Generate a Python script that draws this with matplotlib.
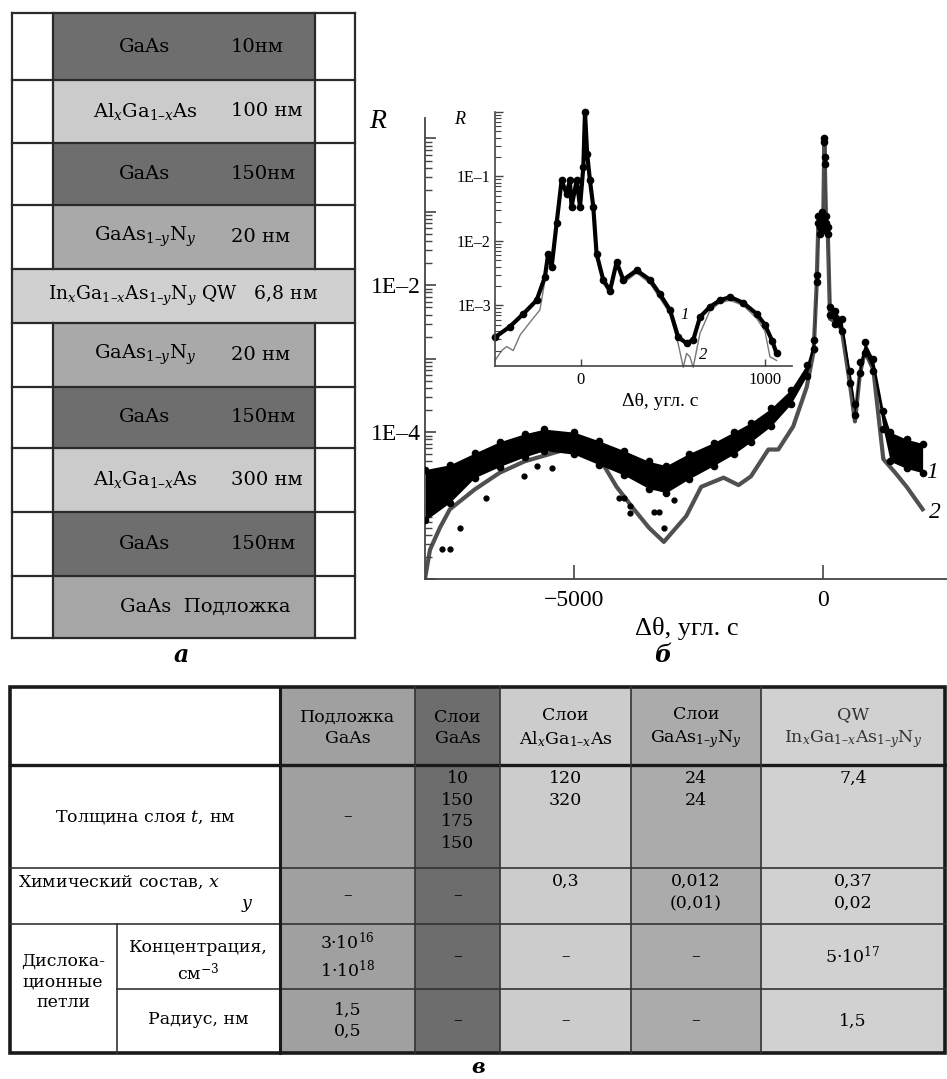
import numpy as np
import matplotlib
matplotlib.use("Agg")
import matplotlib.pyplot as plt
from matplotlib.patches import Rectangle
from matplotlib.ticker import LogLocator, NullFormatter

plt.rcParams['font.family'] = ['DejaVu Serif']
plt.rcParams['mathtext.fontset'] = 'dejavuserif'

W, H = 947, 1079
PLOT_FONT = 'Liberation Serif'

# ---- panel a: layer structure (top to bottom) ----
layer_names = ['GaAs', 'Al$_x$Ga$_{1–x}$As', 'GaAs', 'GaAs$_{1–y}$N$_y$',
               'In$_x$Ga$_{1–x}$As$_{1–y}$N$_y$ QW', 'GaAs$_{1–y}$N$_y$', 'GaAs',
               'Al$_x$Ga$_{1–x}$As', 'GaAs', 'GaAs']
layer_thick = ['10нм', '100 нм', '150нм', '20 нм', '6,8 нм', '20 нм', '150нм',
               '300 нм', '150нм', 'Подложка']

# ---- panel б: main curve (1 = experiment, band of dots; 2 = calculation) ----
x1 = [-7990, -7500, -7000, -6500, -6000, -5600, -5000, -4500, -4000, -3500,
      -3150, -2700, -2200, -1800, -1450, -1050, -650, -330, -190, -130,
      -95, -60, -30, 0, 25, 35, 60, 95, 140, 240,
      375, 540, 640, 740, 840, 1010, 1210, 1350, 1680, 2000]
r1_hi = [3.1e-5, 3.6e-5, 5.2e-5, 7.4e-5, 9.5e-5, 1.1e-4, 1.0e-4, 7.6e-5, 5.6e-5, 4.0e-5,
         3.5e-5, 5.1e-5, 7.2e-5, 1.0e-4, 1.35e-4, 2.1e-4, 3.8e-4, 8.3e-4, 1.8e-3, 1.4e-2,
         8.9e-2, 6.3e-2, 0.1, 7.1e-2, 1.0, 0.56, 8.9e-2, 6.3e-2, 5.1e-3, 4.4e-3,
         3.5e-3, 6.8e-4, 2.4e-4, 9.1e-4, 1.7e-3, 1.0e-3, 1.95e-4, 1.0e-4, 8.0e-5, 7.0e-5]
r1_lo = [6.3e-6, 1.1e-5, 2.4e-5, 3.4e-5, 4.6e-5, 5.6e-5, 5.0e-5, 3.6e-5, 2.6e-5, 1.7e-5,
         1.5e-5, 2.3e-5, 3.5e-5, 5.0e-5, 7.4e-5, 1.2e-4, 2.4e-4, 5.8e-4, 1.35e-3, 1.1e-2,
         7.1e-2, 5.0e-2, 7.9e-2, 5.6e-2, 0.89, 0.45, 7.1e-2, 5.0e-2, 3.9e-3, 3.0e-3,
         2.4e-3, 4.7e-4, 1.7e-4, 6.3e-4, 1.2e-3, 6.9e-4, 1.1e-4, 4.0e-5, 3.2e-5, 2.8e-5]
x1_out = [-7657, -7490, -7289, -6767, -6018, -5749, -5448, -4110, -4000, -3876,
          -3876, -3407, -3300, -3206, -3005]
r1_out = [2.6e-6, 2.6e-6, 5.0e-6, 1.26e-5, 2.5e-5, 3.5e-5, 3.2e-5, 1.26e-5, 1.26e-5, 1.0e-5,
          7.9e-6, 8.1e-6, 8.1e-6, 5.0e-6, 1.2e-5]

x2 = [-7990, -7900, -7700, -7500, -7000, -6500, -6000, -5000, -4500, -4150,
      -3800, -3500, -3200, -2750, -2450, -2000, -1700, -1450, -1100, -900,
      -600, -330, -190, -130, -95, -60, -30, 0, 25, 35,
      60, 95, 140, 240, 375, 540, 640, 740, 840, 1010,
      1210, 1450, 1680, 2000]
r2 = [1.1e-6, 2.5e-6, 5.0e-6, 8.9e-6, 1.66e-5, 2.8e-5, 4.0e-5, 6.3e-5, 4.5e-5, 1.8e-5,
      8.9e-6, 5.0e-6, 3.2e-6, 7.2e-6, 1.8e-5, 2.4e-5, 1.9e-5, 2.5e-5, 5.8e-5, 5.8e-5,
      1.2e-4, 4.1e-4, 1.26e-3, 1.0e-2, 7.1e-2, 5.0e-2, 7.9e-2, 5.6e-2, 0.93, 0.45,
      7.1e-2, 5.0e-2, 3.5e-3, 3.2e-3, 2.5e-3, 4.5e-4, 1.4e-4, 6.3e-4, 1.26e-3, 7.1e-4,
      4.3e-5, 2.8e-5, 1.8e-5, 8.9e-6]

# ---- inset ----
xi1 = [-467, -386, -313, -241, -196, -178, -159, -132, -105, -78,
       -60, -51, -23, -5, 13, 22, 34, 49, 67, 85,
       121, 158, 194, 230, 303, 375, 429, 484, 529, 574,
       610, 647, 701, 755, 810, 882, 955, 1000, 1040, 1063]
ri1 = [3.2e-4, 4.7e-4, 7.4e-4, 1.2e-3, 2.75e-3, 6.3e-3, 4.0e-3, 1.9e-2, 8.7e-2, 5.4e-2,
       8.7e-2, 3.4e-2, 8.7e-2, 3.4e-2, 0.14, 1.0, 0.22, 8.7e-2, 3.4e-2, 6.3e-3,
       2.5e-3, 1.7e-3, 4.7e-3, 2.5e-3, 3.5e-3, 2.5e-3, 1.5e-3, 8.5e-4, 3.2e-4, 2.6e-4,
       2.9e-4, 6.6e-4, 9.5e-4, 1.2e-3, 1.35e-3, 1.1e-3, 7.4e-4, 5.0e-4, 2.8e-4, 1.8e-4]
xi2 = [-467, -430, -404, -368, -330, -295, -260, -223, -196, -178,
       -159, -132, -105, -78, -60, -51, -23, -5, 13, 22,
       34, 49, 67, 85, 121, 158, 194, 230, 303, 375,
       429, 484, 529, 556, 574, 592, 610, 647, 701, 755,
       810, 882, 955, 1000, 1027, 1063]
ri2 = [1.4e-4, 2.0e-4, 2.3e-4, 2.0e-4, 3.5e-4, 4.7e-4, 6.3e-4, 8.5e-4, 2.4e-3, 5.6e-3,
       3.5e-3, 1.7e-2, 7.9e-2, 5.0e-2, 7.9e-2, 3.2e-2, 7.9e-2, 3.2e-2, 0.13, 0.93,
       0.2, 7.9e-2, 3.2e-2, 5.6e-3, 2.2e-3, 1.5e-3, 4.2e-3, 2.2e-3, 3.2e-3, 2.2e-3,
       1.3e-3, 7.4e-4, 2.5e-4, 1.1e-4, 1.8e-4, 1.6e-4, 1.1e-4, 3.7e-4, 8.3e-4, 1.1e-3,
       1.2e-3, 1.0e-3, 6.3e-4, 4.0e-4, 1.6e-4, 1.4e-4]

# ---- panel в: table ----
col_heads = ['Подложка\nGaAs', 'Слои\nGaAs', 'Слои\nAl$_x$Ga$_{1–x}$As',
             'Слои\nGaAs$_{1–y}$N$_y$', 'QW\nIn$_x$Ga$_{1–x}$As$_{1–y}$N$_y$']
row_thickness = ['–', '10\n150\n175\n150', '120\n320', '24\n24', '7,4']
row_composition = ['–', '–', '0,3', '0,012\n(0,01)', '0,37\n0,02']
row_concentration = ['3·10$^{16}$\n1·10$^{18}$', '–', '–', '–', '5·10$^{17}$']
row_radius = ['1,5\n0,5', '–', '–', '–', '1,5']


def frac(left, top, right, bottom):
    return [left / W, 1 - bottom / H, (right - left) / W, (bottom - top) / H]


fig = plt.figure(figsize=(W / 100, H / 100), dpi=100)
bg = fig.add_axes([0, 0, 1, 1])
bg.set_xlim(0, W)
bg.set_ylim(H, 0)
bg.axis('off')

# panel a drawing
edges = [13, 80, 143, 205, 269, 323, 387, 448, 512, 576, 638]
shades = {'GaAs': '#6e6e6e', 'AlGaAs': '#cbcbcb', 'GaAsN': '#a9a9a9', 'QW': '#d0d0d0', 'sub': '#a6a6a6'}
kinds = ['GaAs', 'AlGaAs', 'GaAs', 'GaAsN', 'QW', 'GaAsN', 'GaAs', 'AlGaAs', 'GaAs', 'sub']
lc = '#2a2a2a'
lfs = 14
for i, (name, th) in enumerate(zip(layer_names, layer_thick)):
    y0, y1 = edges[i], edges[i + 1]
    ym = (y0 + y1) / 2
    if kinds[i] == 'QW':
        bg.add_patch(Rectangle((12, y0), 343, y1 - y0, fc=shades['QW'], ec='none'))
        bg.text(183, ym, name + '   ' + th, ha='center', va='center', fontsize=lfs - 0.5)
    else:
        bg.add_patch(Rectangle((53, y0), 262, y1 - y0, fc=shades[kinds[i]], ec='none'))
        bg.plot([53, 53], [y0, y1], color=lc, lw=1.6)
        bg.plot([315, 315], [y0, y1], color=lc, lw=1.6)
        if kinds[i] == 'sub':
            bg.text(205, ym, name + '  ' + th, ha='center', va='center', fontsize=lfs)
        else:
            bg.text(145, ym, name, ha='center', va='center', fontsize=lfs)
            bg.text(231, ym, th, ha='left', va='center', fontsize=lfs)
for y in edges:
    bg.plot([12, 355], [y, y], color=lc, lw=1.6)
bg.plot([12, 12], [13, 638], color=lc, lw=1.6)
bg.plot([355, 355], [13, 638], color=lc, lw=1.6)
bg.text(181, 655, 'а', ha='center', va='center', fontsize=17, style='italic', weight='bold')

# panel б labels
bg.text(378, 122, 'R', ha='center', va='center', fontsize=20, style='italic', family=PLOT_FONT)
bg.text(687, 628, 'Δθ, угл. с', ha='center', va='center', fontsize=19, family=PLOT_FONT)
bg.text(663, 655, 'б', ha='center', va='center', fontsize=17, style='italic', weight='bold')
bg.text(932, 473, '1', ha='center', va='center', fontsize=17, style='italic', family=PLOT_FONT)
bg.text(935, 513, '2', ha='center', va='center', fontsize=17, style='italic', family=PLOT_FONT)
bg.text(460, 120, 'R', ha='center', va='center', fontsize=13, style='italic', family=PLOT_FONT)
bg.text(660, 402, 'Δθ, угл. с', ha='center', va='center', fontsize=14, family=PLOT_FONT)
bg.text(685, 315, '1', ha='center', va='center', fontsize=12, style='italic', family=PLOT_FONT)
bg.text(703, 355, '2', ha='center', va='center', fontsize=12, style='italic', family=PLOT_FONT)

# main plot
ax = fig.add_axes(frac(425, 118, 947, 579))
ax.set_facecolor('none')
ax.set_yscale('log')
ax.plot(x2, r2, color='#505050', lw=3, zorder=1)
ax.fill_between(x1, r1_lo, r1_hi, color='black', lw=0, zorder=2)
ax.plot(x1, r1_hi, 'o', color='black', ms=4.5, zorder=3)
ax.plot(x1, r1_lo, 'o', color='black', ms=4.5, zorder=3)
ax.plot(x1_out, r1_out, 'o', color='black', ms=3.5, zorder=3)
ax.set_xlim(-8000, 2490)
ax.set_ylim(1.2e-6, 1.9)
for s in ['top', 'right']:
    ax.spines[s].set_visible(False)
for s in ['left', 'bottom']:
    ax.spines[s].set_color('#444444')
    ax.spines[s].set_linewidth(1.3)
ax.set_xticks([-5000, 0], labels=['−5000', '0'], fontfamily=PLOT_FONT, fontsize=17)
ax.tick_params(axis='x', direction='in', length=10, width=1.2, color='#444444', pad=8)
ax.set_yticks([1e-6, 1e-5, 1e-4, 1e-3, 1e-2, 1e-1, 1],
              labels=['', '', '1E–4', '', '1E–2', '', ''], fontfamily=PLOT_FONT, fontsize=17)
ax.yaxis.set_minor_locator(LogLocator(base=10, subs=np.arange(2, 10), numticks=20))
ax.yaxis.set_minor_formatter(NullFormatter())
ax.tick_params(axis='y', which='major', direction='in', length=8, width=1.2, color='#444444', pad=3)
ax.tick_params(axis='y', which='minor', direction='in', length=5, width=1.0, color='#444444')

# inset
ai = fig.add_axes(frac(495, 112, 792, 366))
ai.set_facecolor('none')
ai.set_yscale('log')
ai.plot(xi2, ri2, color='#777777', lw=1.0, zorder=1, clip_on=False)
ai.plot(xi1, ri1, '-o', color='black', lw=3, ms=4.5, zorder=2, clip_on=False)
ai.set_xlim(-467, 1147)
ai.set_ylim(1.15e-4, 1.0)
for s in ['top', 'right']:
    ai.spines[s].set_visible(False)
for s in ['left', 'bottom']:
    ai.spines[s].set_color('#444444')
    ai.spines[s].set_linewidth(1.2)
ai.set_xticks([0, 1000], labels=['0', '1000'], fontfamily=PLOT_FONT, fontsize=12)
ai.tick_params(axis='x', direction='in', length=5, width=1.0, color='#444444', pad=4)
ai.set_yticks([1e-3, 1e-2, 1e-1, 1], labels=['1E–3', '1E–2', '1E–1', ''],
              fontfamily=PLOT_FONT, fontsize=11.5)
ai.yaxis.set_minor_locator(LogLocator(base=10, subs=np.arange(2, 10), numticks=20))
ai.yaxis.set_minor_formatter(NullFormatter())
ai.tick_params(axis='y', which='major', direction='in', length=6, width=1.0, color='#444444', pad=3)
ai.tick_params(axis='y', which='minor', direction='in', length=4, width=0.8, color='#444444')

# panel в: table
cx = [10, 117, 280, 415, 500, 631, 761, 945]
ry = [687, 765, 868, 924, 989, 1053]
col_fill = ['#a0a0a0', '#6d6d6d', '#cccccc', '#ababab', '#d1d1d1']
for j, fc in enumerate(col_fill):
    bg.add_patch(Rectangle((cx[j + 2], ry[0]), cx[j + 3] - cx[j + 2], ry[-1] - ry[0], fc=fc, ec='none'))

fs = 12.5
for j, txt in enumerate(col_heads):
    xc = (cx[j + 2] + cx[j + 3]) / 2
    bg.text(xc, 728, txt, ha='center', va='center', fontsize=fs, linespacing=1.3,
            color='#333333' if j == 4 else 'black')

rows = [row_thickness, row_composition, row_concentration, row_radius]
for i, row in enumerate(rows):
    y0, y1 = ry[i + 1], ry[i + 2]
    for j, txt in enumerate(row):
        xc = (cx[j + 2] + cx[j + 3]) / 2
        if txt == '–' or i >= 2:
            bg.text(xc, (y0 + y1) / 2, txt, ha='center', va='center', fontsize=fs, linespacing=1.35)
        else:
            bg.text(xc, y0 + 5, txt, ha='center', va='top', fontsize=fs, linespacing=1.35)

bg.text(145, 817, 'Толщина слоя $t$, нм', ha='center', va='center', fontsize=fs)
bg.text(18, 882, 'Химический состав, $x$', ha='left', va='center', fontsize=fs)
bg.text(247, 906, '$y$', ha='center', va='center', fontsize=fs)
bg.text(63, 982, 'Дислока-\nционные\nпетли', ha='center', va='center', fontsize=fs, linespacing=1.3)
bg.text(198, 961, 'Концентрация,\nсм$^{-3}$', ha='center', va='center', fontsize=fs, linespacing=1.3)
bg.text(198, 1020, 'Радиус, нм', ha='center', va='center', fontsize=fs)

tl = '#1a1a1a'
thin = '#333333'
bg.plot([10, 945], [765, 765], color=tl, lw=2.4)
bg.plot([10, 945], [868, 868], color=thin, lw=1.2)
bg.plot([10, 945], [924, 924], color=thin, lw=1.2)
bg.plot([117, 945], [989, 989], color=thin, lw=1.2)
bg.plot([117, 117], [924, 1053], color=thin, lw=1.2)
bg.plot([280, 280], [687, 1053], color=tl, lw=2.2)
for x in cx[3:7]:
    bg.plot([x, x], [687, 1053], color=thin, lw=1.2)
bg.add_patch(Rectangle((10, 687), 935, 366, fc='none', ec=tl, lw=2.6))
bg.text(478, 1067, 'в', ha='center', va='center', fontsize=15, style='italic', weight='bold')

fig.savefig('out.png', dpi=100)
